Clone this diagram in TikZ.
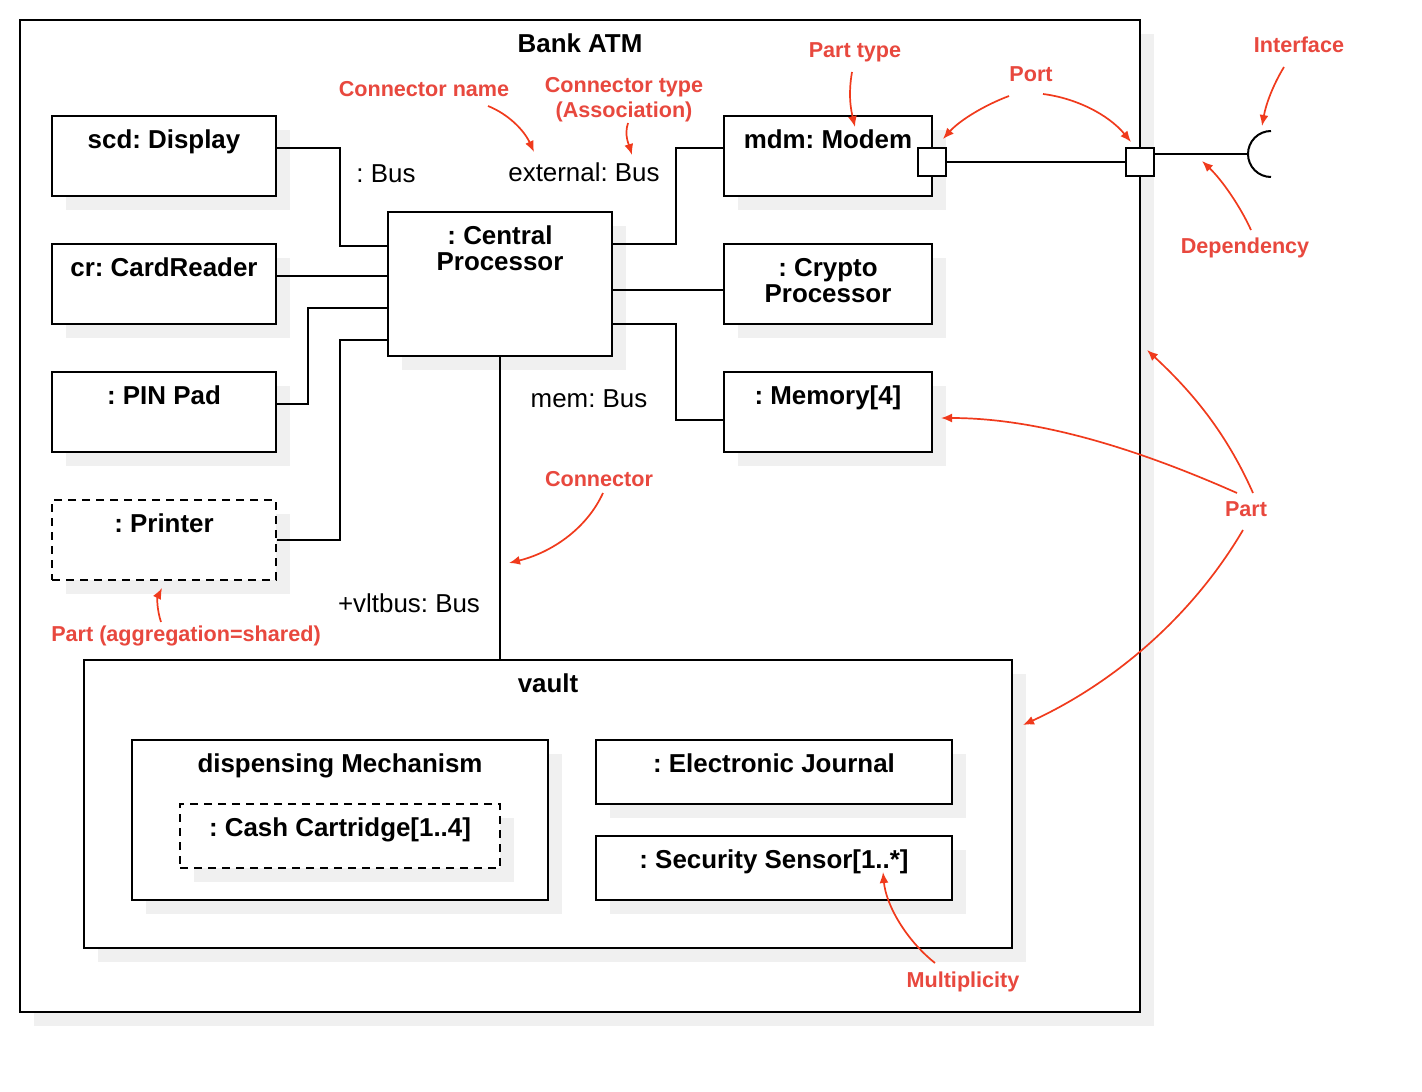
\documentclass[tikz,border=0pt]{standalone}
\usepackage{fontspec}
\setmainfont{Liberation Sans}
\usetikzlibrary{shadows,arrows.meta,calc}
\frenchspacing
\definecolor{shadowgray}{RGB}{240,240,240}
\definecolor{annText}{RGB}{232,72,62}
\definecolor{annArrow}{RGB}{240,58,28}
\newcommand\pfont{\fontsize{25.9}{26}\selectfont\bfseries\frenchspacing}
\newcommand\bfontx{\fontsize{25.9}{26}\selectfont\frenchspacing}
\newcommand\afont{\fontsize{21.6}{22}\selectfont\bfseries\frenchspacing}
\begin{document}
\begin{tikzpicture}[x=1pt,y=-1pt,
  part/.style={draw, line width=2pt, fill=white, rectangle, inner sep=0pt,
    drop shadow={shadow xshift=14pt, shadow yshift=-14pt, fill=shadowgray, opacity=1}},
  shared/.style={part, dash pattern=on 8pt off 6pt},
  port/.style={draw, line width=2pt, fill=white, rectangle, inner sep=0pt, minimum size=28pt},
  ptxt/.style={anchor=base, inner sep=0pt, font=\pfont},
  btxt/.style={anchor=base, inner sep=0pt, font=\bfontx},
  atxt/.style={anchor=base, inner sep=0pt, font=\afont, text=annText},
  conn/.style={draw, line width=2pt},
  ann/.style={draw=annArrow, line width=1.7pt, -{Latex[length=11pt,width=9pt]}}]
\useasboundingbox (0,0) rectangle (1422,1092);

% outer classifier
\node[part, minimum width=1120pt, minimum height=992pt] (atm) at (580,516) {};
\node[ptxt] (atmT) at ([yshift=-33pt]atm.north) {Bank ATM};

% parts on the left
\node[part, minimum width=224pt, minimum height=80pt] (disp) at (164,156) {};
\node[ptxt] (dispT) at ([yshift=-33pt]disp.north) {scd: Display};
\node[part, minimum width=224pt, minimum height=80pt] (card) at (164,284) {};
\node[ptxt] (cardT) at ([yshift=-33pt]card.north) {cr: CardReader};
\node[part, minimum width=224pt, minimum height=80pt] (pin) at (164,412) {};
\node[ptxt] (pinT) at ([yshift=-33pt]pin.north) {: PIN Pad};
\node[shared, minimum width=224pt, minimum height=80pt] (prn) at (164,540) {};
\node[ptxt] (prnT) at ([yshift=-33pt]prn.north) {: Printer};

% central processor
\node[part, minimum width=224pt, minimum height=144pt] (cp) at (500,284) {};
\node[ptxt] (cpT1) at ([yshift=-33pt]cp.north) {: Central};
\node[ptxt] (cpT2) at ([yshift=-59pt]cp.north) {Processor};

% parts on the right
\node[part, minimum width=208pt, minimum height=80pt] (mdm) at (828,156) {};
\node[ptxt] (mdmT) at ([yshift=-33pt]mdm.north) {mdm: Modem};
\node[part, minimum width=208pt, minimum height=80pt] (cry) at (828,284) {};
\node[ptxt] (cryT1) at ([yshift=-33pt]cry.north) {: Crypto};
\node[ptxt] (cryT2) at ([yshift=-59pt]cry.north) {Processor};
\node[part, minimum width=208pt, minimum height=80pt] (mem) at (828,412) {};
\node[ptxt] (memT) at ([yshift=-33pt]mem.north) {: Memory[4]};

% vault
\node[part, minimum width=928pt, minimum height=288pt] (vault) at (548,804) {};
\node[ptxt] (vaultT) at ([yshift=-33pt]vault.north) {vault};
\node[part, minimum width=416pt, minimum height=160pt] (disp2) at (340,820) {};
\node[ptxt] (disp2T) at ([yshift=-33pt]disp2.north) {dispensing Mechanism};
\node[shared, minimum width=320pt, minimum height=64pt] (cash) at (340,836) {};
\node[ptxt] (cashT) at ([yshift=-33pt]cash.north) {: Cash Cartridge[1..4]};
\node[part, minimum width=356pt, minimum height=64pt] (ej) at (774,772) {};
\node[ptxt] (ejT) at ([yshift=-33pt]ej.north) {: Electronic Journal};
\node[part, minimum width=356pt, minimum height=64pt] (ss) at (774,868) {};
\node[ptxt] (ssT) at ([yshift=-33pt]ss.north) {: Security Sensor[1..*]};

% ports and interface
\node[port] (mport) at (932,162) {};
\node[port] (oport) at (1140,162) {};
\coordinate (ifc) at (1248,154);
\draw[line width=2pt] (1271,131) arc[start angle=90, end angle=270, radius=23pt];

% connectors
\draw[conn] (disp.east |- 0,148) -- (340,148) -- (340,246) -- (cp.west |- 0,246);
\draw[conn] (card.east |- 0,276) -- (cp.west |- 0,276);
\draw[conn] (pin.east |- 0,404) -- (308,404) -- (308,308) -- (cp.west |- 0,308);
\draw[conn] (prn.east |- 0,540) -- (340,540) -- (340,340) -- (cp.west |- 0,340);
\draw[conn] (cp.east |- 0,244) -- (676,244) -- (676,148) -- (mdm.west |- 0,148);
\draw[conn] (cp.east |- 0,290) -- (cry.west |- 0,290);
\draw[conn] (cp.east |- 0,324) -- (676,324) -- (676,420) -- (mem.west |- 0,420);
\draw[conn] (cp.south) -- (vault.north -| cp.south);
\draw[conn] (mport) -- (oport);
\draw[conn] (oport.east |- ifc) -- (ifc);

% connector labels
\node[btxt] (busL) at (386,182) {: Bus};
\node[btxt] (extL) at (584,181) {external: Bus};
\node[btxt] (memL) at (589,407) {mem: Bus};
\node[btxt] (vltL) at (409,612) {+vltbus: Bus};

% annotations
\node[atxt] (aPartType) at (855,57) {Part type};
\node[atxt] (aConnName) at (424,96) {Connector name};
\node[atxt] (aConnType1) at (624,92) {Connector type};
\node[atxt] (aConnType2) at (624,117) {(Association)};
\node[atxt] (aPort) at (1031,81) {Port};
\node[atxt] (aIfc) at (1299,52) {Interface};
\node[atxt] (aDep) at (1245,253) {Dependency};
\node[atxt] (aConn) at (599,486) {Connector};
\node[atxt] (aShared) at (186,641) {Part (aggregation=shared)};
\node[atxt] (aPart) at (1246,516) {Part};
\node[atxt] (aMult) at (963,987) {Multiplicity};

\coordinate (tPartType) at (855,127);
\coordinate (tConnName) at (534,152);
\coordinate (tConnType) at (632,155);
\coordinate (tPortL) at (943,139);
\coordinate (tPortR) at (1131,142);
\coordinate (tIfc) at (1262,126);
\coordinate (tDep) at (1202,161);
\coordinate (tConn) at (509,563);
\coordinate (tShared) at (162,588);
\coordinate (tPartUp) at (1147,350);
\coordinate (tPartMem) at (941,418);
\coordinate (tPartVault) at (1023,725);
\coordinate (tMult) at (883,872);

\draw[ann] (852,72) .. controls (848,95) and (851,110) .. (tPartType);
\draw[ann] (488,106) .. controls (508,114) and (524,130) .. (tConnName);
\draw[ann] (628,123) .. controls (624,135) and (629,145) .. (tConnType);
\draw[ann] (1009,96) .. controls (985,105) and (960,120) .. (tPortL);
\draw[ann] (1043,94) .. controls (1075,98) and (1108,114) .. (tPortR);
\draw[ann] (1284,67) .. controls (1273,85) and (1266,104) .. (tIfc);
\draw[ann] (1251,230) .. controls (1240,206) and (1222,180) .. (tDep);
\draw[ann] (603,493) .. controls (586,530) and (550,553) .. (tConn);
\draw[ann] (161,622) .. controls (157,610) and (157,598) .. (tShared);
\draw[ann] (1253,493) .. controls (1225,430) and (1190,390) .. (tPartUp);
\draw[ann] (1237,493) .. controls (1140,450) and (1040,418) .. (tPartMem);
\draw[ann] (1243,530) .. controls (1190,620) and (1110,685) .. (tPartVault);
\draw[ann] (935,963) .. controls (906,940) and (886,905) .. (tMult);
\end{tikzpicture}
\end{document}
